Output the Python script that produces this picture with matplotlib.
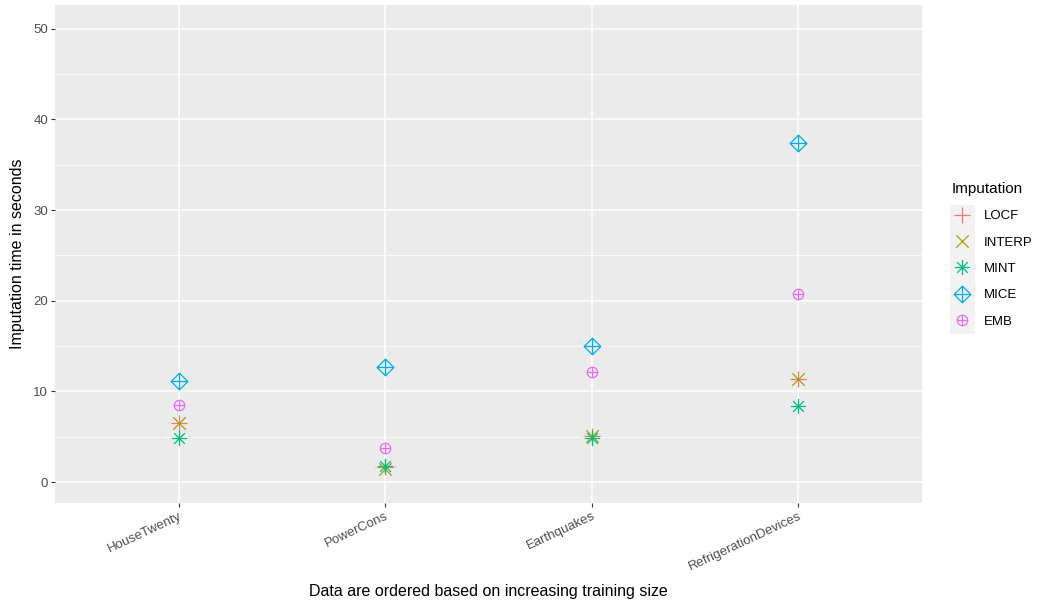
import numpy as np
import matplotlib.pyplot as plt
from matplotlib.path import Path
from matplotlib.patches import Rectangle
from matplotlib.lines import Line2D

plt.rcParams['font.family'] = ['Liberation Sans', 'DejaVu Sans']

datasets = ["HouseTwenty", "PowerCons", "Earthquakes", "RefrigerationDevices"]
methods = ["LOCF", "INTERP", "MINT", "MICE", "EMB"]

locf = [6.5, 1.65, 5.1, 11.4]
interp = [6.5, 1.4, 5.1, 11.4]
mint = [4.85, 1.75, 4.85, 8.4]
mice = [11.15, 12.7, 15.0, 37.4]
emb = [8.5, 3.75, 12.1, 20.7]

colors = ["#F8766D", "#A3A500", "#00BF7D", "#00B0F6", "#E76BF3"]


def lines_path(segs):
    verts, codes = [], []
    for a, b in segs:
        verts += [a, b]
        codes += [Path.MOVETO, Path.LINETO]
    return Path(verts, codes)


plus = lines_path([((-1, 0), (1, 0)), ((0, -1), (0, 1))])
cross = lines_path([((-1, -1), (1, 1)), ((-1, 1), (1, -1))])
d = 0.7071
asterisk = lines_path([((-1, 0), (1, 0)), ((0, -1), (0, 1)),
                       ((-d, -d), (d, d)), ((-d, d), (d, -d))])
diamond = Path([(0, 1), (1, 0), (0, -1), (-1, 0), (0, 1)],
               [Path.MOVETO, Path.LINETO, Path.LINETO, Path.LINETO, Path.CLOSEPOLY])
diamond_plus = Path.make_compound_path(diamond, plus)
circle_plus = Path.make_compound_path(Path.circle((0, 0), 1), plus)

markers = [plus, cross, asterisk, diamond_plus, circle_plus]
msizes = [12, 9, 11, 12, 7.5]
series = [locf, interp, mint, mice, emb]

fig = plt.figure(figsize=(10.49, 6.02), dpi=100)
ax = fig.add_axes([55 / 1049, 99 / 602, 867 / 1049, 498 / 602])
ax.set_facecolor("#EBEBEB")

x = np.arange(1, len(datasets) + 1)
handles = []
for name, vals, col, mk, ms in zip(methods, series, colors, markers, msizes):
    ax.plot(x, vals, linestyle="none", marker=mk, markersize=ms,
            markerfacecolor="none", markeredgecolor=col, markeredgewidth=0.9,
            zorder=3)
    handles.append(Line2D([], [], linestyle="none", marker=mk, markersize=ms,
                          markerfacecolor="none", markeredgecolor=col,
                          markeredgewidth=0.9))

ax.set_xlim(0.4, 4.6)
ax.set_ylim(-2.3, 52.6)
ax.set_xticks(x)
ax.set_xticklabels(datasets, rotation=25, ha="right", rotation_mode="anchor")
ax.set_yticks([0, 10, 20, 30, 40, 50])
ax.set_yticks([5, 15, 25, 35, 45], minor=True)
ax.grid(True, which="major", color="white", linewidth=1.1)
ax.grid(True, which="minor", axis="y", color="white", linewidth=0.55)
ax.set_axisbelow(True)
for s in ax.spines.values():
    s.set_visible(False)
ax.tick_params(axis="both", which="major", colors="#333333", length=3,
               width=0.8, labelsize=9.5, labelcolor="#4D4D4D", pad=2)
ax.tick_params(axis="y", which="minor", length=0)

ax.set_xlabel("Data are ordered based on increasing training size",
              fontsize=11.5, labelpad=8)
ax.set_ylabel("Imputation time in seconds", fontsize=11.5, labelpad=6)

# legend
fig.patches.append(Rectangle((950 / 1049, (602 - 334) / 602), 25 / 1049, 129 / 602,
                             transform=fig.transFigure, facecolor="#F2F2F2",
                             edgecolor="none", zorder=0))
leg = fig.legend(handles, methods, title="Imputation", loc="upper left",
                 bbox_to_anchor=(940 / 1049, (602 - 170) / 602), frameon=False,
                 fontsize=9.5, title_fontsize=11, handlelength=1.6,
                 handletextpad=0.8, labelspacing=1.07)
leg._legend_box.align = "left"

fig.savefig("out.png", dpi=100)
